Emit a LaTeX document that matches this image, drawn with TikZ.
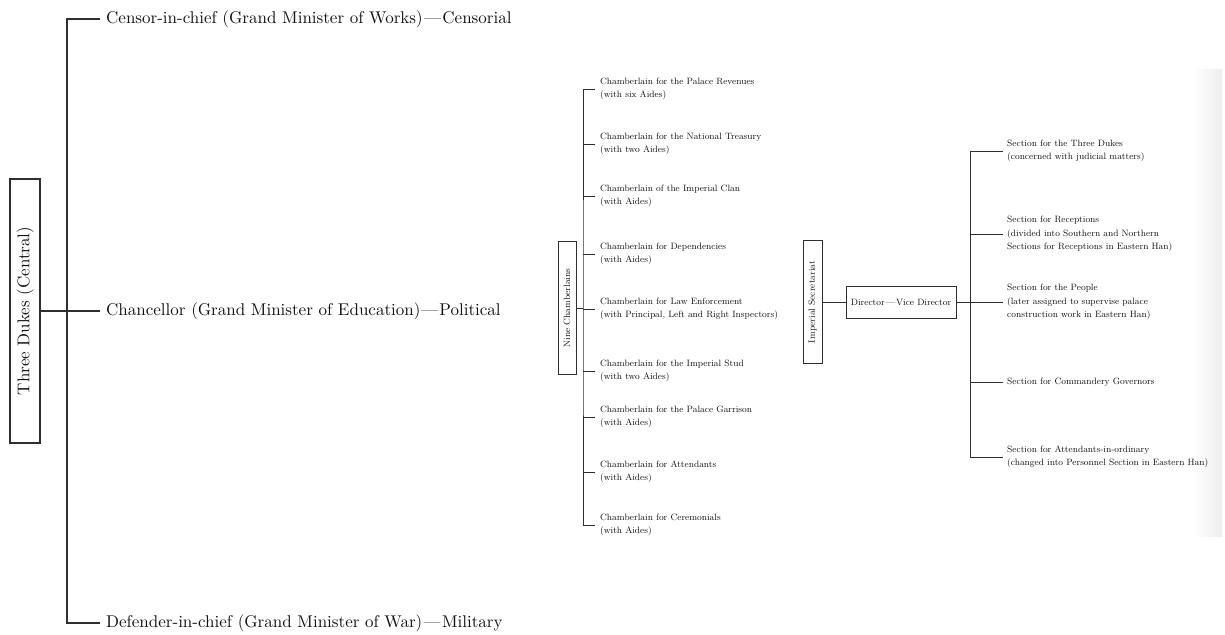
\documentclass[tikz,border=0pt]{standalone}
\usetikzlibrary{positioning}
\definecolor{ink}{HTML}{111111}
\definecolor{wire}{HTML}{2e2e2e}
\newcommand{\bigscale}[1]{\scalebox{1.7}{#1}}
\tikzset{
  bigtxt/.style={font=\fontsize{10}{12}\selectfont, text=ink, anchor=west, inner xsep=6pt, inner ysep=2pt},
  smalltxt/.style={font=\fontsize{9.15}{13.6}\selectfont, text=ink, anchor=west, align=left, inner xsep=5pt, inner ysep=1pt},
  orgbox/.style={draw=wire, line width=0.9pt, inner sep=0pt, text=ink},
  thick wire/.style={draw=wire, line width=1.1pt},
  thin wire/.style={draw=wire, line width=0.85pt},
}
\begin{document}
\begin{tikzpicture}[x=1pt,y=-1pt]
\useasboundingbox (0,0) rectangle (1225,634);
% faint scan shading at the right edge
\shade[left color=white, right color=black!7] (1193,69) rectangle (1222,536);

% ---------- Three Dukes ----------
\node[orgbox, line width=1.1pt, minimum width=30, minimum height=264,
      font=\fontsize{10}{12}\selectfont] (duke) at (25,311) {\rotatebox{90}{\bigscale{Three Dukes (Central)}}};
\node[bigtxt] (censor) at (100,19) {\bigscale{Censor-in-chief (Grand Minister of Works)\kern0.8pt---\kern0.8ptCensorial}};
\node[bigtxt] (chanc) at (100,311) {\bigscale{Chancellor (Grand Minister of Education)\kern0.6pt---\kern0.6ptPolitical}};
\node[bigtxt] (defend) at (100,623) {\bigscale{Defender-in-chief (Grand Minister of War)\kern0.8pt---\kern0.8ptMilitary}};
\coordinate (lt) at (67,311);
\draw[thick wire] (censor.west) -| (lt) |- (defend.west);
\draw[thick wire] (duke.east) -- (chanc.west);

% ---------- Nine Chamberlains ----------
\node[orgbox, line width=0.8pt, minimum width=18, minimum height=133,
      font=\fontsize{9.15}{11}\selectfont] (nine) at (567,308) {\rotatebox{90}{Nine Chamberlains}};
\node[smalltxt] (c1) at (595,89)  {Chamberlain for the Palace Revenues\\(with six Aides)};
\node[smalltxt] (c2) at (595,144) {Chamberlain for the National Treasury\\(with two Aides)};
\node[smalltxt] (c3) at (595,196) {Chamberlain of the Imperial Clan\\(with Aides)};
\node[smalltxt] (c4) at (595,254) {Chamberlain for Dependencies\\(with Aides)};
\node[smalltxt] (c5) at (595,309) {Chamberlain for Law Enforcement\\(with Principal, Left and Right Inspectors)};
\node[smalltxt] (c6) at (595,371) {Chamberlain for the Imperial Stud\\(with two Aides)};
\node[smalltxt] (c7) at (595,417) {Chamberlain for the Palace Garrison\\(with Aides)};
\node[smalltxt] (c8) at (595,472) {Chamberlain for Attendants\\(with Aides)};
\node[smalltxt] (c9) at (595,525) {Chamberlain for Ceremonials\\(with Aides)};
\coordinate (nt) at (583,308);
\draw[thin wire] (c1.west) -| (nt) |- (c9.west);
\foreach \i in {2,3,4,6,7,8} \draw[thin wire] (c\i.west) -- (c\i.west -| nt);
\draw[thin wire] (nine.east) -- (nine.east -| nt);
\draw[thin wire] (c5.west) -- (c5.west -| nt);

% ---------- Imperial Secretariat ----------
\node[orgbox, line width=0.8pt, minimum width=19, minimum height=123,
      font=\fontsize{9.15}{11}\selectfont] (imp) at (812.5,302) {\rotatebox{90}{Imperial Secretariat}};
\node[orgbox, line width=0.8pt, minimum width=110, minimum height=32,
      font=\fontsize{9.15}{11}\selectfont] (dir) at (901,302) {Director\kern1pt---\kern1pt Vice Director};
\draw[thin wire] (imp.east) -- (dir.west);

\node[smalltxt, inner xsep=4pt] (s1) at (1003,151) {Section for the Three Dukes\\(concerned with judicial matters)};
\node[smalltxt, inner xsep=4pt] (s2) at (1003,234) {Section for Receptions\\(divided into Southern and Northern\\Sections for Receptions in Eastern Han)};
\node[smalltxt, inner xsep=4pt] (s3) at (1003,302) {Section for the People\\(later assigned to supervise palace\\construction work in Eastern Han)};
\node[smalltxt, inner xsep=4pt] (s4) at (1003,382) {Section for Commandery Governors};
\node[smalltxt, inner xsep=4pt] (s5) at (1003,457) {Section for Attendants-in-ordinary\\(changed into Personnel Section in Eastern Han)};
\coordinate (rt) at (970,302);
\draw[thin wire] (s1.west) -| (rt) |- (s5.west);
\draw[thin wire] (s2.west) -- (s2.west -| rt);
\draw[thin wire] (s4.west) -- (s4.west -| rt);
\draw[thin wire] (dir.east) -- (s3.west);
\end{tikzpicture}
\end{document}
